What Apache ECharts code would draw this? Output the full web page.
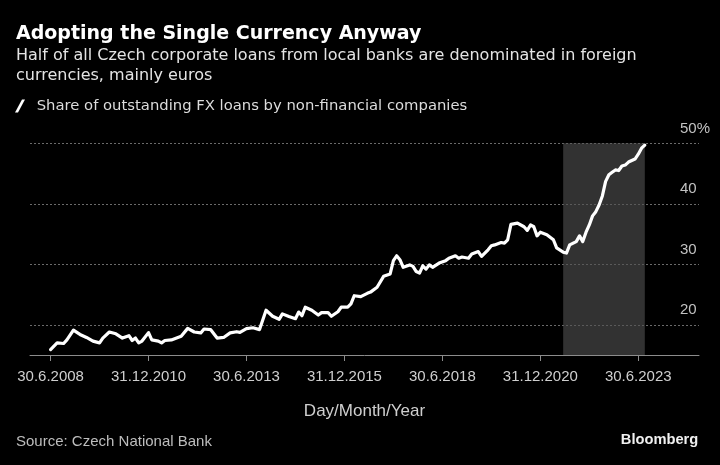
<!DOCTYPE html>
<html>
<head>
<meta charset="utf-8">
<script src="https://cdn.jsdelivr.net/npm/echarts@6/dist/echarts.min.js"></script>
<style>
html,body{margin:0;padding:0;background:#000;}
#chart{width:720px;height:465px;}
</style>
</head>
<body>
<div id="chart"></div>
<script>
// Month-end observations (YYYY-MM)
const months = [
 '2008-06','2008-08','2008-10','2008-11','2009-01','2009-03','2009-05','2009-07','2009-09','2009-10','2009-12',
 '2010-02','2010-04','2010-06','2010-07','2010-08','2010-09','2010-10','2010-12',
 '2011-01','2011-03','2011-04','2011-05','2011-07','2011-10','2011-12',
 '2012-02','2012-04','2012-05','2012-07','2012-09','2012-11',
 '2013-01','2013-03','2013-04','2013-06','2013-08','2013-10','2013-12',
 '2014-02','2014-04','2014-05','2014-07','2014-09','2014-10','2014-11','2014-12',
 '2015-02','2015-04','2015-05','2015-07','2015-08','2015-10','2015-11',
 '2016-01','2016-02','2016-03','2016-05','2016-07','2016-08','2016-10','2016-12',
 '2017-02','2017-03','2017-04','2017-05','2017-06','2017-08','2017-09','2017-10','2017-11','2017-12',
 '2018-01','2018-02','2018-03','2018-05','2018-07','2018-08','2018-10','2018-11','2018-12',
 '2019-02','2019-03','2019-05','2019-06','2019-08','2019-09','2019-10','2019-12',
 '2020-01','2020-02','2020-03','2020-05','2020-07','2020-08','2020-09','2020-10','2020-11','2020-12',
 '2021-02','2021-04','2021-05','2021-07','2021-08','2021-09','2021-11','2021-12',
 '2022-01','2022-02','2022-03','2022-04','2022-05','2022-06','2022-07','2022-08','2022-09','2022-10','2022-11','2022-12',
 '2023-01','2023-02','2023-03','2023-05','2023-06','2023-07','2023-08'
];
// Share of outstanding FX loans by non-financial companies, %
const fxShare = [
 15.9,17.0,16.9,17.5,19.1,18.4,17.9,17.3,17.0,17.8,18.8,
 18.5,17.8,18.2,17.4,17.8,17.0,17.3,18.7,
 17.5,17.3,17.0,17.4,17.5,18.1,19.4,
 18.8,18.65,19.3,19.2,17.8,17.9,
 18.65,18.85,18.75,19.35,19.5,19.2,22.4,
 21.4,20.9,21.8,21.35,21.0,22.1,21.5,22.9,
 22.4,21.6,22.0,22.0,21.4,22.15,22.9,
 22.9,23.45,24.8,24.65,25.2,25.4,26.2,28.0,
 28.4,30.6,31.4,30.75,29.5,29.9,29.65,28.8,28.55,29.75,
 29.2,29.9,29.5,30.2,30.6,31.0,31.4,31.0,31.2,
 31.0,31.7,32.1,31.3,32.4,33.05,33.2,33.6,
 33.5,34.05,36.6,36.8,36.2,35.6,36.5,36.2,34.7,35.3,
 34.9,34.05,32.7,32.0,31.85,33.2,33.75,34.7,
 33.75,35.3,36.5,38.0,38.7,39.8,41.3,43.7,44.8,45.2,45.6,45.5,
 46.25,46.4,46.9,47.4,48.2,49.2,49.7
];
const xTickLabels = ['30.6.2008','31.12.2010','30.6.2013','31.12.2015','30.6.2018','31.12.2020','30.6.2023'];
const yTickValues = [20, 30, 40, 50];
const shadeStart = '2021-07';
const shadeEnd = '2023-08';

const seriesName = 'Share of outstanding FX loans by non-financial companies';

// months since end of June 2008
function mIdx(s){ const p = s.split('-').map(Number); return (p[0]-2008)*12 + (p[1]-6); }
function labelIdx(l){ const p = l.split('.').map(Number); return (p[2]-2008)*12 + (p[1]-6); }

const xTickPos = xTickLabels.map(labelIdx);
const labelMap = {};
xTickLabels.forEach((l,i)=>{ labelMap[xTickPos[i]] = l; });
const lineData = months.map((m,i)=>[mIdx(m), fxShare[i]]);

const chart = echarts.init(document.getElementById('chart'), null, {renderer:'canvas'});
chart.setOption({
  backgroundColor:'#000',
  animation:false,
  title:[
    {text:'Adopting the Single Currency Anyway', left:16, top:23.5, padding:0,
     textStyle:{color:'#fff', fontSize:19, fontWeight:'bold', fontFamily:'DejaVu Sans', lineHeight:22}},
    {text:'Half of all Czech corporate loans from local banks are denominated in foreign\ncurrencies, mainly euros',
     left:16, top:46, padding:0,
     textStyle:{color:'#e4e4e4', fontSize:16, fontWeight:'normal', fontFamily:'DejaVu Sans', lineHeight:20}},
    {text:'Source: Czech National Bank', left:16, top:432.7, padding:0,
     textStyle:{color:'#bdbdbd', fontSize:15, fontWeight:'normal', fontFamily:'Liberation Sans', lineHeight:18}},
    {text:'Bloomberg', right:21.7, top:431, padding:0,
     textStyle:{color:'#f0f0f0', fontSize:14.7, fontWeight:'bold', fontFamily:'Liberation Sans', lineHeight:18}}
  ],
  legend:{
    data:[seriesName], left:15, top:96, padding:0,
    icon:'path://M7,0 L10,0 L3,13 L0,13 Z',
    itemWidth:10, itemHeight:13, symbolKeepAspect:false,
    itemStyle:{color:'#fff', borderWidth:0},
    textStyle:{color:'#dcdcdc', fontSize:14.8, fontFamily:'DejaVu Sans', lineHeight:20, padding:[0,0,0,6.7]},
    selectedMode:false
  },
  grid:{left:30, right:21, top:143.3, bottom:110, containLabel:false},
  xAxis:{
    type:'value', min:-6.3, max:198.6,
    axisLine:{show:true, lineStyle:{color:'#8c8c8c', width:1}},
    axisTick:{show:true, customValues:xTickPos, length:6, lineStyle:{color:'#8c8c8c', width:1}},
    axisLabel:{customValues:xTickPos, formatter:v=>labelMap[v]||'', color:'#cfcfcf', fontSize:15, fontFamily:'Liberation Sans', margin:14},
    splitLine:{show:false},
    name:'Day/Month/Year', nameLocation:'middle', nameGap:48,
    nameTextStyle:{color:'#cfcfcf', fontSize:17, fontFamily:'Liberation Sans'}
  },
  yAxis:{
    type:'value', min:15, max:50, position:'right',
    axisLine:{show:false},
    axisTick:{show:false, customValues:yTickValues},
    axisLabel:{customValues:yTickValues, inside:true, margin:19, align:'left', verticalAlign:'bottom',
      padding:[0,0,7,0], formatter:v=>v===50?'50%':String(v), color:'#c2c2c2', fontSize:15, fontFamily:'Liberation Sans'},
    splitLine:{show:true, lineStyle:{color:'#6a6a6a', width:1, type:[2,2]}}
  },
  series:[{
    name:seriesName, type:'line', data:lineData, showSymbol:false, symbol:'none',
    lineStyle:{color:'#fff', width:3.2, join:'round', cap:'round'},
    itemStyle:{color:'#fff'},
    z:3,
    markArea:{silent:true, itemStyle:{color:'rgba(80,80,80,0.62)'},
      data:[[{xAxis:mIdx(shadeStart)},{xAxis:mIdx(shadeEnd)}]]}
  }]
});
</script>
</body>
</html>
